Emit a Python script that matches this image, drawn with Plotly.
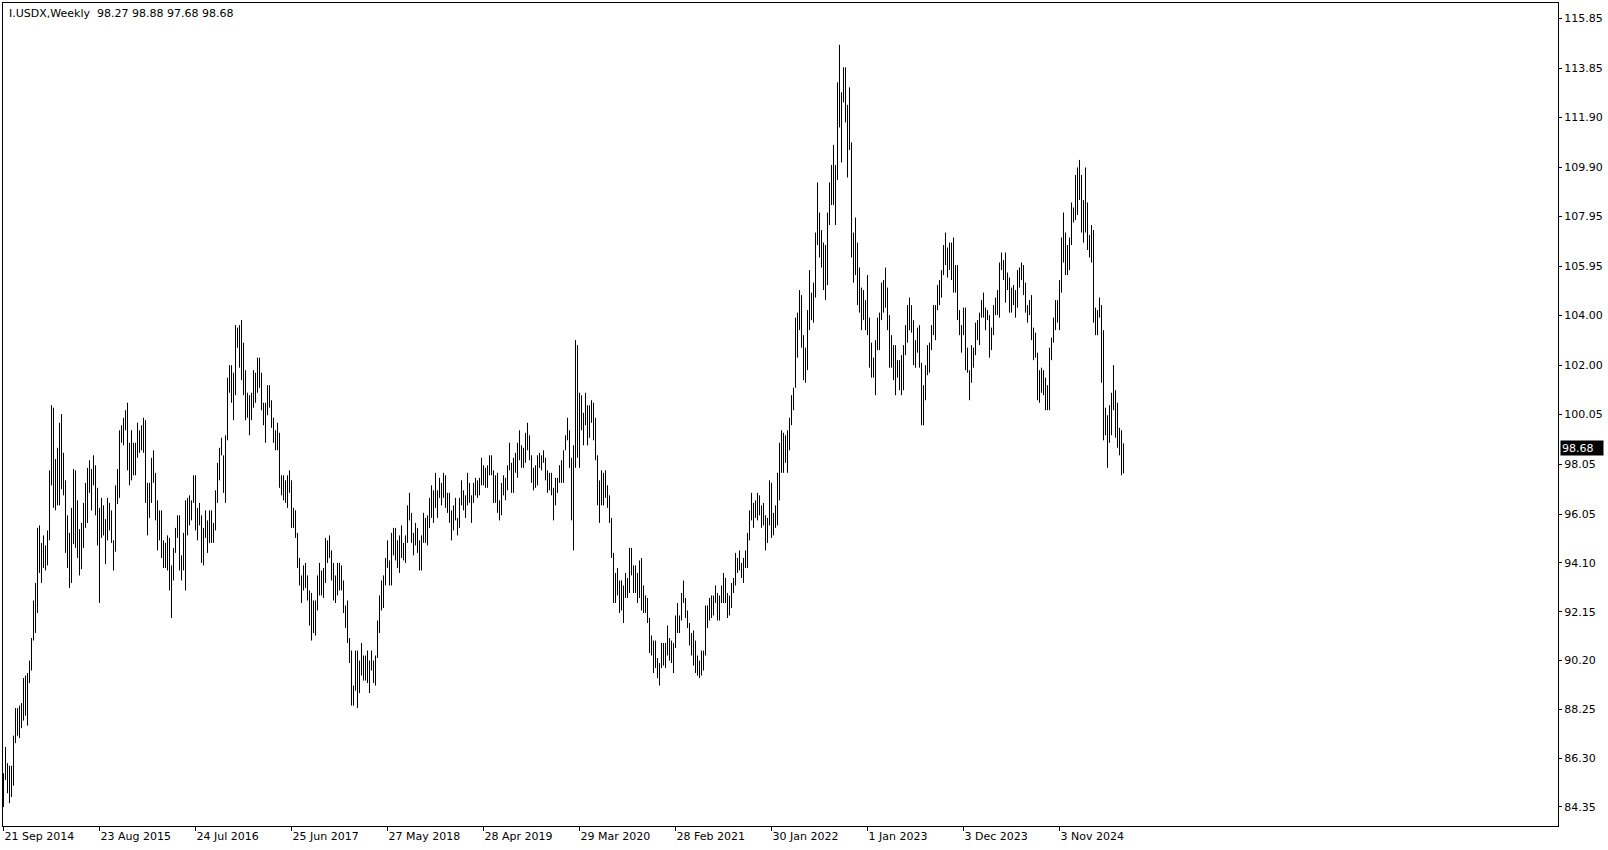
import pandas as pd
import plotly.graph_objects as go

# ---------------- data (weekly high / low, I.USDX) ----------------
start_week = "2014-09-21"

hi_2014 = [85.7, 86.75, 86.1, 86.0, 86.0, 87.2, 88.3, 88.3, 88.4, 88.5, 89.5, 89.6, 89.7, 90.2, 91.1]
lo_2014 = [84.35, 85.43, 84.9, 84.5, 84.75, 85.2, 86.9, 87.2, 87.1, 87.5, 87.8, 88.0, 87.6, 89.3, 89.8]

hi_2015 = [92.6, 93.3, 95.5, 95.6, 94.9, 95.2, 94.8, 95.4, 97.8, 100.4, 100.3, 98.25, 98.7, 99.7, 100.05, 98.5,
           97.4, 96.0, 95.3, 96.3, 97.85, 97.8, 96.6, 95.45, 95.7, 96.5, 97.3, 97.9, 98.2, 97.85, 98.4, 98.0,
           97.1, 96.3, 96.7, 96.4, 95.85, 96.7, 96.5, 96.2, 95.0, 97.2, 97.85, 99.4, 99.6, 99.9, 100.2, 100.5,
           98.9, 99.4, 98.9, 98.9]
lo_2015 = [91.0, 91.3, 92.1, 93.7, 93.3, 93.9, 93.8, 94.0, 95.0, 97.2, 96.3, 96.2, 96.4, 96.4, 97.05, 96.8,
           94.5, 93.9, 93.1, 93.3, 94.85, 94.7, 94.3, 93.6, 93.85, 94.7, 95.5, 95.7, 96.9, 96.2, 97.2, 96.0,
           94.8, 92.5, 95.1, 95.2, 94.05, 95.0, 95.4, 94.9, 93.8, 94.55, 96.45, 96.7, 98.9, 98.8, 99.4, 97.8,
           97.2, 97.4, 97.6, 97.6]

hi_2016 = [99.7, 99.4, 99.6, 99.9, 99.8, 97.3, 97.3, 98.3, 98.6, 97.7, 96.6, 96.2, 96.2, 95.0, 94.9, 95.2,
           95.1, 94.0, 94.7, 95.5, 96.0, 96.0, 94.4, 95.3, 96.6, 96.7, 96.8, 96.6, 97.6, 97.6, 96.3, 96.5,
           96.0, 95.5, 96.2, 95.8, 96.2, 96.2, 95.7, 97.0, 98.1, 98.7, 99.1, 98.4, 99.2, 101.5, 102.0, 102.0,
           101.7, 103.6, 103.5, 103.6]
lo_2016 = [98.3, 98.5, 98.6, 98.5, 96.5, 95.2, 95.9, 96.5, 97.3, 95.8, 94.6, 95.0, 94.3, 93.9, 93.9, 93.8,
           93.0, 91.9, 93.4, 94.5, 95.1, 93.8, 93.4, 93.8, 93.0, 95.2, 95.6, 95.8, 96.5, 95.4, 95.0, 95.6,
           94.1, 94.0, 95.1, 94.5, 94.9, 94.9, 94.9, 95.4, 96.5, 97.4, 98.4, 96.9, 96.5, 99.0, 100.9, 100.5,
           99.8, 100.8, 102.7, 101.9]

hi_2017 = [103.8, 102.9, 101.8, 100.9, 100.8, 100.9, 101.8, 101.7, 102.3, 102.3, 101.7, 100.5, 100.5, 101.2,
           101.2, 100.6, 99.9, 99.4, 99.7, 99.3, 97.6, 97.6, 97.4, 97.6, 97.8, 97.4, 96.3, 96.2, 95.3, 94.3,
           93.6, 94.0, 94.1, 93.6, 93.0, 92.9, 92.6, 92.6, 93.6, 94.1, 93.8, 93.9, 95.1, 95.0, 95.2, 94.6,
           94.1, 93.6, 94.1, 94.1, 94.0, 93.4]
lo_2017 = [101.4, 100.8, 99.8, 99.9, 99.2, 99.8, 100.3, 100.5, 100.9, 101.1, 100.2, 99.6, 98.9, 100.0, 100.3,
           99.5, 98.9, 98.6, 98.6, 97.1, 96.8, 96.6, 96.5, 96.3, 96.9, 95.5, 95.5, 95.1, 93.9, 93.2, 92.5,
           93.0, 93.1, 92.6, 91.6, 91.0, 91.3, 91.2, 92.2, 92.8, 92.8, 92.7, 93.3, 94.1, 94.3, 93.4, 92.6,
           92.5, 92.8, 93.0, 93.0, 92.1]

hi_2018 = [92.4, 92.6, 91.1, 90.6, 89.2, 90.6, 90.6, 90.2, 90.9, 90.4, 90.4, 90.6, 90.2, 90.6, 90.2, 90.4,
           91.8, 92.8, 93.4, 93.6, 94.3, 95.0, 94.2, 95.3, 95.5, 95.5, 95.0, 95.2, 95.6, 94.9, 95.2, 96.4,
           96.9, 96.1, 95.3, 95.7, 95.5, 95.0, 95.2, 96.1, 95.9, 96.0, 96.7, 97.2, 97.0, 97.7, 97.0, 97.5,
           97.3, 97.7, 97.6, 96.9]
lo_2018 = [91.5, 90.9, 90.1, 88.4, 88.4, 89.0, 88.3, 88.9, 89.6, 89.4, 89.4, 89.3, 88.9, 89.8, 89.3, 89.2,
           90.3, 91.3, 92.2, 92.3, 93.2, 93.9, 93.2, 93.2, 94.4, 94.2, 93.9, 93.7, 94.3, 94.2, 94.1, 94.9,
           95.8, 94.9, 94.4, 94.8, 94.5, 93.8, 93.8, 94.9, 94.9, 94.8, 95.5, 95.9, 95.7, 96.3, 95.9, 96.7,
           96.4, 96.7, 96.3, 96.1]

hi_2019 = [96.9, 96.2, 96.4, 96.7, 95.9, 96.7, 97.4, 97.0, 96.8, 97.7, 97.3, 96.8, 97.3, 97.5, 97.4, 97.5,
           98.3, 98.0, 97.9, 98.0, 98.4, 98.4, 97.8, 97.6, 97.7, 96.6, 97.3, 97.6, 97.5, 98.0, 98.9, 98.1,
           98.3, 98.5, 98.9, 99.4, 98.8, 98.7, 99.3, 99.7, 99.2, 98.4, 97.9, 98.0, 98.4, 98.5, 98.4, 98.6,
           98.3, 97.8, 97.7, 97.7]
lo_2019 = [95.7, 95.0, 95.4, 95.8, 95.2, 95.5, 96.4, 96.2, 95.9, 96.4, 96.5, 95.7, 96.5, 96.8, 96.7, 96.8,
           97.2, 97.2, 97.1, 97.1, 97.6, 97.6, 96.5, 96.5, 96.1, 95.8, 96.0, 96.8, 96.6, 97.0, 97.8, 96.9,
           96.9, 97.7, 97.5, 98.2, 97.9, 97.9, 98.1, 98.6, 98.2, 97.3, 97.0, 97.1, 97.2, 97.9, 97.8, 98.1,
           97.4, 96.9, 97.0, 96.8]

hi_2020 = [97.1, 97.5, 97.5, 98.0, 98.2, 98.6, 99.2, 99.9, 99.4, 98.3, 98.8, 103.0, 102.8, 100.9, 100.8,
           100.1, 100.9, 100.4, 100.4, 100.6, 100.5, 99.9, 98.4, 97.4, 97.8, 97.7, 97.8, 97.2, 96.8, 95.9,
           94.5, 93.7, 93.9, 93.4, 93.4, 93.2, 93.7, 93.5, 94.7, 94.7, 94.0, 94.0, 93.7, 94.2, 94.3, 93.2,
           92.8, 92.7, 91.9, 91.2, 91.0, 91.0, 90.3]
lo_2020 = [95.8, 96.4, 96.9, 97.3, 97.3, 97.3, 98.6, 99.0, 97.9, 95.8, 94.6, 97.9, 98.3, 97.9, 99.4, 98.8,
           99.6, 98.8, 99.1, 99.7, 99.0, 98.2, 96.4, 95.7, 96.4, 96.4, 96.7, 96.3, 95.7, 94.3, 92.5, 92.5,
           92.8, 92.1, 92.2, 91.7, 92.7, 92.7, 92.9, 93.6, 92.9, 92.9, 92.5, 92.7, 92.2, 92.1, 92.1, 91.7,
           90.5, 90.4, 89.7, 89.9, 89.5]

hi_2021 = [90.1, 90.9, 90.9, 90.9, 91.6, 91.1, 91.0, 90.9, 92.0, 92.5, 92.0, 92.9, 93.4, 92.7, 92.2, 91.7,
           91.3, 91.4, 91.0, 90.4, 90.2, 90.6, 90.6, 92.4, 92.4, 92.7, 92.8, 92.8, 93.2, 92.9, 92.8, 93.2,
           93.7, 93.5, 92.9, 92.8, 93.3, 93.5, 94.5, 94.3, 94.6, 94.1, 94.3, 94.6, 95.3, 96.2, 96.9, 96.5,
           96.6, 96.9, 96.8, 96.4]
lo_2021 = [89.2, 89.9, 90.0, 89.9, 90.4, 90.2, 90.1, 89.7, 90.7, 91.3, 91.3, 91.8, 92.5, 91.9, 91.5, 90.8,
           90.4, 90.0, 89.7, 89.6, 89.5, 89.6, 89.8, 90.4, 91.5, 91.8, 91.9, 92.0, 92.5, 91.8, 91.8, 92.5,
           92.5, 92.5, 91.9, 92.0, 92.3, 92.9, 93.2, 93.7, 93.8, 93.5, 93.3, 93.9, 93.9, 95.0, 95.8, 95.5,
           95.9, 95.8, 96.0, 95.5]

hi_2022 = [96.5, 96.0, 95.9, 97.4, 97.3, 96.1, 96.4, 97.7, 98.9, 99.4, 99.3, 99.2, 99.4, 99.9, 100.8, 101.1,
           103.9, 104.1, 105.0, 104.8, 103.2, 102.7, 104.2, 105.8, 104.9, 105.3, 107.3, 109.3, 108.1, 107.4,
           106.9, 106.8, 108.1, 109.3, 110.0, 110.8, 110.0, 113.3, 114.8, 112.9, 113.9, 113.9, 112.4, 113.1,
           110.9, 107.3, 107.9, 106.9, 105.9, 105.1, 105.0, 104.6]
lo_2022 = [95.6, 94.6, 94.9, 95.6, 95.1, 95.2, 95.5, 95.6, 96.6, 97.7, 97.7, 98.1, 97.7, 98.6, 99.6, 100.2,
           101.1, 102.3, 103.4, 102.7, 101.4, 101.3, 101.8, 103.4, 103.8, 103.7, 104.7, 106.8, 106.3, 105.9,
           105.0, 104.6, 105.2, 107.6, 108.4, 108.4, 107.6, 109.4, 111.5, 110.1, 112.5, 111.7, 109.5, 110.6,
           106.3, 105.3, 105.6, 104.4, 104.1, 103.4, 103.8, 103.4]

hi_2023 = [105.6, 103.9, 102.9, 102.3, 103.0, 103.9, 104.1, 105.3, 105.4, 105.9, 105.1, 104.0, 103.2, 102.8,
           102.8, 102.2, 102.2, 102.4, 102.8, 103.6, 104.4, 104.7, 104.4, 103.8, 103.0, 103.5, 103.6, 102.1,
           101.2, 102.0, 102.8, 102.9, 103.6, 104.4, 104.4, 105.2, 105.4, 105.8, 106.8, 107.3, 106.7, 106.9,
           106.9, 107.1, 106.0, 106.0, 104.2, 103.6, 104.3, 104.3, 102.7, 101.8]
lo_2023 = [103.2, 101.9, 101.5, 101.5, 100.8, 102.6, 102.6, 103.8, 104.1, 104.3, 103.4, 101.9, 101.9, 101.4,
           100.8, 101.5, 101.0, 100.8, 101.0, 102.4, 102.9, 103.4, 103.3, 102.0, 101.9, 102.5, 101.9, 99.6,
           99.6, 100.6, 101.6, 101.7, 102.6, 103.2, 103.0, 104.2, 104.4, 104.7, 105.6, 106.0, 105.5, 105.8,
           105.4, 104.9, 104.9, 103.8, 103.2, 102.5, 103.2, 101.8, 101.7, 100.6]

hi_2024 = [102.8, 102.7, 103.7, 103.8, 104.1, 104.6, 104.9, 104.3, 104.2, 104.0, 103.5, 104.4, 104.7, 105.0,
           106.1, 106.5, 106.2, 106.5, 105.7, 105.5, 105.1, 105.2, 105.0, 105.8, 105.9, 106.1, 106.0, 105.3,
           104.4, 104.6, 104.8, 103.5, 103.3, 102.5, 101.8, 101.9, 101.8, 101.5, 101.2, 102.7, 103.1, 103.9,
           104.6, 104.6, 105.4, 107.1, 108.1, 107.3, 106.8, 107.1, 108.5, 108.3, 109.6]
lo_2024 = [101.3, 101.9, 102.4, 103.0, 102.8, 103.9, 103.9, 103.4, 103.8, 102.3, 102.6, 103.2, 104.0, 104.0,
           103.9, 105.8, 105.4, 104.5, 105.0, 104.1, 104.1, 104.4, 103.9, 104.3, 105.1, 105.4, 104.8, 104.1,
           103.7, 104.0, 103.0, 102.2, 102.3, 100.6, 100.5, 100.9, 100.8, 100.2, 100.2, 100.2, 102.2, 102.9,
           103.4, 103.7, 103.4, 104.9, 106.1, 105.6, 105.6, 105.8, 106.8, 107.7, 107.8]

hi_2025 = [109.9, 110.2, 109.6, 108.6, 109.9, 108.5, 107.2, 107.6, 107.4, 104.3, 104.2, 104.7, 104.4, 103.4,
           100.3, 100.0, 100.4, 100.9, 102.0, 101.0, 100.5, 99.5, 99.4, 98.88]
lo_2025 = [108.0, 108.6, 107.3, 106.9, 107.3, 106.6, 106.3, 106.1, 103.7, 103.2, 103.2, 103.9, 101.3, 99.0,
           99.2, 97.9, 98.9, 99.2, 100.2, 99.1, 98.7, 98.4, 97.6, 97.68]

date_labels = ["21 Sep 2014", "23 Aug 2015", "24 Jul 2016", "25 Jun 2017", "27 May 2018", "28 Apr 2019",
               "29 Mar 2020", "28 Feb 2021", "30 Jan 2022", "1 Jan 2023", "3 Dec 2023", "3 Nov 2024"]
price_ticks = [115.85, 113.85, 111.90, 109.90, 107.95, 105.95, 104.00, 102.00, 100.05, 98.05, 96.05,
               94.10, 92.15, 90.20, 88.25, 86.30, 84.35]
last_price = 98.68
header_text = "I.USDX,Weekly\u00a0\u00a098.27 98.88 97.68 98.68"

# ---------------- assemble ----------------
years = [(hi_2014, lo_2014, 15), (hi_2015, lo_2015, 52), (hi_2016, lo_2016, 52), (hi_2017, lo_2017, 52),
         (hi_2018, lo_2018, 52), (hi_2019, lo_2019, 52), (hi_2020, lo_2020, 53), (hi_2021, lo_2021, 52),
         (hi_2022, lo_2022, 52), (hi_2023, lo_2023, 52), (hi_2024, lo_2024, 53), (hi_2025, lo_2025, 24)]
highs, lows = [], []
for k, (h, l, n) in enumerate(years):
    assert len(h) == n and len(l) == n, (k, len(h), len(l), n)
    highs += h
    lows += l

t0 = pd.Timestamp(start_week)

xs, ys = [], []
for i in range(len(highs)):
    xs += [i, i, None]
    ys += [lows[i], highs[i], None]

tick_idx = [(pd.Timestamp(d) - t0).days // 7 for d in date_labels]

FONT = "DejaVu Sans"
fig = go.Figure()
fig.add_trace(go.Scatter(x=xs, y=ys, mode="lines", line=dict(color="#000000", width=1),
                         hoverinfo="skip", showlegend=False))

fig.update_layout(
    width=1608, height=850, autosize=False,
    paper_bgcolor="#ffffff", plot_bgcolor="#ffffff",
    margin=dict(l=3, r=50, t=3, b=24, pad=0),
    font=dict(family=FONT, size=11, color="#000000"),
    showlegend=False,
)
fig.update_xaxes(range=[-0.25, 777.25], tickvals=tick_idx, ticktext=date_labels,
                 ticks="outside", ticklen=4, tickwidth=1, tickcolor="#000000",
                 showline=True, mirror=True, linecolor="#000000", linewidth=1,
                 showgrid=False, zeroline=False, ticklabelposition="outside right",
                 tickfont=dict(family=FONT, size=11, color="#000000"), fixedrange=True)
fig.update_yaxes(range=[83.59, 116.47], side="right", tickvals=price_ticks,
                 ticktext=[f"{v:.2f}" for v in price_ticks],
                 ticks="outside", ticklen=3, tickwidth=1, tickcolor="#000000",
                 showline=True, mirror=True, linecolor="#000000", linewidth=1,
                 showgrid=False, zeroline=False,
                 tickfont=dict(family=FONT, size=11, color="#000000"), fixedrange=True)

fig.add_annotation(x=0.0026, y=0.998, xref="paper", yref="paper", xanchor="left", yanchor="top",
                   text=header_text, showarrow=False, font=dict(family=FONT, size=11, color="#000000"))
fig.add_annotation(x=1.0013, y=last_price, xref="paper", yref="y", xanchor="left", yanchor="middle",
                   text=f"{last_price:.2f}", showarrow=False, bgcolor="#000000", borderpad=1,
                   width=40, height=12, align="left",
                   font=dict(family=FONT, size=11, color="#ffffff"))

fig.write_html("out.html", config={"displayModeBar": False},
               post_script="document.body.style.margin='0px';document.body.style.overflow='hidden';")
